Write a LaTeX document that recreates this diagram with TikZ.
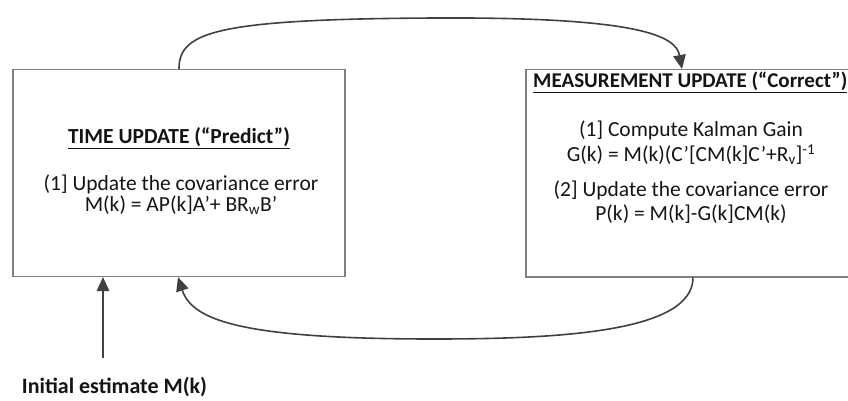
\documentclass[tikz,border=0pt]{standalone}
\usepackage{fontspec}
\setmainfont{Carlito}
\usetikzlibrary{arrows.meta}
\definecolor{boxgray}{HTML}{808080}
\definecolor{linegray}{HTML}{404040}
\definecolor{txtcol}{HTML}{141414}
\begin{document}
\begin{tikzpicture}[x=1pt,y=1pt,
  box/.style={draw=boxgray, line width=1.1pt, inner sep=0pt},
  conn/.style={draw=linegray, line width=1.6pt, -{Triangle[length=14pt,width=12.5pt]}},
  txt/.style={anchor=base, inner sep=0pt, text=txtcol, font=\fontsize{21.5}{25}\selectfont}]
\useasboundingbox (0,0) rectangle (848,-401);
% boxes
\node[box, minimum width=332pt, minimum height=207pt] (L) at (179,-173) {};
\node[box, minimum width=324pt, minimum height=207.5pt] (R) at (688,-173.25) {};
% left box text
\node[txt] (lh) at (179,-143.3) {\underline{\textbf{TIME UPDATE (“Predict”)}}};
\node[txt] (l1) at (181,-190) {(1] Update the covariance error};
\node[txt] (l2) at (181,-211.5) {M(k) = AP(k]A’+ BR\textsubscript{w}B’};
% right box text
\node[txt, anchor=base west, font=\fontsize{21}{25}\selectfont] (rh) at (533,-88) {\underline{\textbf{MEASUREMENT UPDATE (“Correct”)}}};
\node[txt] (r1) at (691,-136.7) {(1] Compute Kalman Gain};
\node[txt] (r2) at (691,-161.7) {G(k) = M(k)(C’[CM(k]C’+R\textsubscript{v}]\textsuperscript{-1}};
\node[txt] (r3) at (691,-196.7) {(2] Update the covariance error};
\node[txt] (r4) at (691,-220) {P(k) = M(k]-G(k]CM(k)};
% initial estimate
\node[txt, font=\fontsize{22}{26}\selectfont] (init) at (114.5,-393) {\textbf{Initial estimate M(k)}};
\coordinate (initsrc) at (103,-358);
% connectors
\draw[conn] (L.north) .. controls (179,-32) and (215,-19) .. (437,-18)
  .. controls (640,-17) and (676,-36) .. ([xshift=-6pt]R.north);
\draw[conn] ([xshift=5pt]R.south) .. controls (693,-332) and (560,-339) .. (434,-339)
  .. controls (240,-339) and (192,-320) .. ([xshift=-1pt]L.south);
\draw[conn] (initsrc) -- (initsrc |- L.south);
\end{tikzpicture}
\end{document}
